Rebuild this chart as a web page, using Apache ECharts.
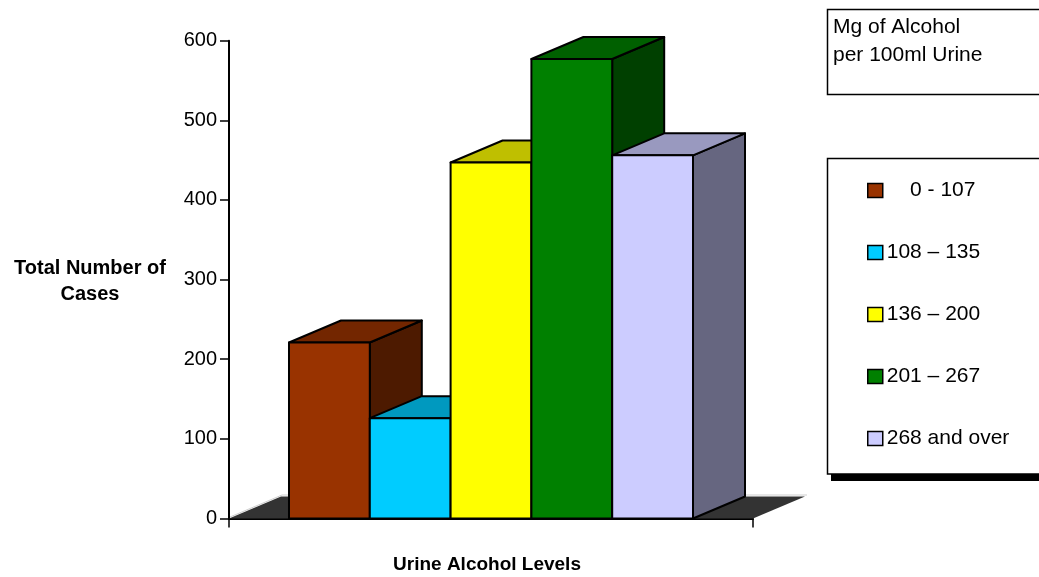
<!DOCTYPE html>
<html>
<head>
<meta charset="utf-8">
<script src="https://cdn.jsdelivr.net/npm/echarts@6/dist/echarts.min.js"></script>
<style>
  html, body { margin: 0; padding: 0; background: #ffffff; }
  #chart { width: 1039px; height: 577px; }
</style>
</head>
<body>
<div id="chart"></div>
<script>
// Urine alcohol level bands and the number of cases in each
const categories = ['0 - 107', '108 – 135', '136 – 200', '201 – 267', '268 and over'];
const caseCounts = [221, 126, 447, 577, 456];

// Value axis range and step
const yMin = 0;
const yMax = 600;
const yStep = 100;

// Face colours for each column: front, top (lit), side (shaded)
const frontColors = ['#993300', '#00CCFF', '#FFFF00', '#008000', '#CCCCFF'];
const topColors   = ['#732600', '#0099BF', '#BFBF00', '#006000', '#9999BF'];
const sideColors  = ['#4D1A00', '#006680', '#808000', '#004000', '#666680'];

// 3D projection: how far the back faces are shifted right / up
const DEPTH_X = 52;
const DEPTH_Y = 22;
// share of the category band covered by the row of columns
const BAR_SPAN = 0.771;

const FONT = '"Liberation Sans", Arial, Helvetica, sans-serif';

const chart = echarts.init(document.getElementById('chart'), null, { renderer: 'canvas' });

function renderColumn(params, api) {
  const idx = api.value(2);
  const base = api.coord([0, 0]);
  const top = api.coord([0, api.value(1)]);
  const band = api.size([1, 0])[0];
  const w = band * BAR_SPAN / categories.length;
  const x0 = base[0] - band * BAR_SPAN / 2 + idx * w;
  const x1 = x0 + w;
  const yb = base[1];
  const yt = top[1];
  const edge = { stroke: '#000', lineWidth: 2, lineJoin: 'round' };
  return {
    type: 'group',
    children: [
      {
        type: 'polygon',
        shape: { points: [[x1, yb], [x1 + DEPTH_X, yb - DEPTH_Y], [x1 + DEPTH_X, yt - DEPTH_Y], [x1, yt]] },
        style: Object.assign({ fill: sideColors[idx] }, edge)
      },
      {
        type: 'polygon',
        shape: { points: [[x0, yt], [x1, yt], [x1 + DEPTH_X, yt - DEPTH_Y], [x0 + DEPTH_X, yt - DEPTH_Y]] },
        style: Object.assign({ fill: topColors[idx] }, edge)
      },
      {
        type: 'rect',
        shape: { x: x0, y: yt, width: w, height: yb - yt },
        style: Object.assign({ fill: frontColors[idx] }, edge)
      }
    ]
  };
}

function renderFloor(params, api) {
  const base = api.coord([0, 0]);
  const band = api.size([1, 0])[0];
  const xl = base[0] - band / 2;
  const xr = base[0] + band / 2;
  const y = base[1];
  return {
    type: 'group',
    children: [
      {
        type: 'polyline',
        shape: { points: [[xl + 1, y - 1.5], [xl + DEPTH_X + 1, y - DEPTH_Y - 1.5], [xr + DEPTH_X + 2, y - DEPTH_Y - 1.5]] },
        style: { stroke: '#cfcfcf', lineWidth: 1, fill: null }
      },
      {
        type: 'polygon',
        shape: { points: [[xl, y], [xr, y], [xr + DEPTH_X, y - DEPTH_Y], [xl + DEPTH_X, y - DEPTH_Y]] },
        style: { fill: '#333333' }
      }
    ]
  };
}

const columnSeries = categories.map((name, i) => ({
  type: 'custom',
  name: name,
  z: 3 + i,
  itemStyle: { color: frontColors[i], borderColor: '#000', borderWidth: 1.5 },
  encode: { x: 0, y: 1 },
  data: [[0, caseCounts[i], i]],
  renderItem: renderColumn
}));

const option = {
  backgroundColor: '#ffffff',
  animation: false,
  grid: { left: 229, right: 286, top: 40.7, bottom: 58.5 },
  xAxis: {
    type: 'category',
    data: [''],
    boundaryGap: true,
    axisLine: { show: true, lineStyle: { color: '#000', width: 2 } },
    axisTick: { show: true, length: 9, lineStyle: { color: '#000', width: 1.5 } },
    axisLabel: { show: false },
    splitLine: { show: false }
  },
  yAxis: {
    type: 'value',
    min: yMin,
    max: yMax,
    interval: yStep,
    axisLine: { show: true, lineStyle: { color: '#000', width: 2 } },
    axisTick: { show: true, length: 9, lineStyle: { color: '#000', width: 1.5 } },
    axisLabel: { color: '#000', fontSize: 20, fontFamily: FONT, margin: 12 },
    splitLine: { show: false }
  },
  legend: {
    orient: 'vertical',
    left: 867,
    top: 180,
    padding: 0,
    itemWidth: 15,
    itemHeight: 14,
    itemGap: 41,
    icon: 'rect',
    selectedMode: false,
    data: categories,
    itemStyle: { borderColor: '#000', borderWidth: 1.5 },
    textStyle: { color: '#000', fontSize: 21, lineHeight: 20, fontFamily: FONT, padding: [0, 0, 0, -1] },
    formatter: name => (name === categories[0] ? '    ' + name : name)
  },
  graphic: [
    // heading box
    {
      type: 'rect', z: 0,
      shape: { x: 827.5, y: 9.5, width: 300, height: 85 },
      style: { fill: '#fff', stroke: '#000', lineWidth: 1.5 }
    },
    {
      type: 'text', z: 1,
      style: {
        text: 'Mg of Alcohol\nper 100ml Urine',
        x: 833, y: 13,
        fontSize: 21, lineHeight: 28, fontFamily: FONT, fill: '#000',
        align: 'left', verticalAlign: 'top'
      }
    },
    // legend frame with its drop shadow
    {
      type: 'rect', z: 0,
      shape: { x: 831, y: 165, width: 300, height: 316 },
      style: { fill: '#000' }
    },
    {
      type: 'rect', z: 0,
      shape: { x: 827.5, y: 158.5, width: 300, height: 315.5 },
      style: { fill: '#fff', stroke: '#000', lineWidth: 1.5 }
    },
    // axis titles
    {
      type: 'text', z: 1,
      style: {
        text: 'Total Number of\nCases',
        x: 90, y: 281,
        fontSize: 20, fontWeight: 'bold', lineHeight: 26, fontFamily: FONT, fill: '#000',
        align: 'center', verticalAlign: 'middle'
      }
    },
    {
      type: 'text', z: 1,
      style: {
        text: 'Urine Alcohol Levels',
        x: 487, y: 565,
        fontSize: 19, fontWeight: 'bold', fontFamily: FONT, fill: '#000',
        align: 'center', verticalAlign: 'middle'
      }
    }
  ],
  series: [
    {
      type: 'custom',
      name: 'floor',
      z: 1,
      silent: true,
      encode: { x: 0, y: 1 },
      data: [[0, 0]],
      renderItem: renderFloor
    }
  ].concat(columnSeries)
};

chart.setOption(option);
</script>
</body>
</html>
